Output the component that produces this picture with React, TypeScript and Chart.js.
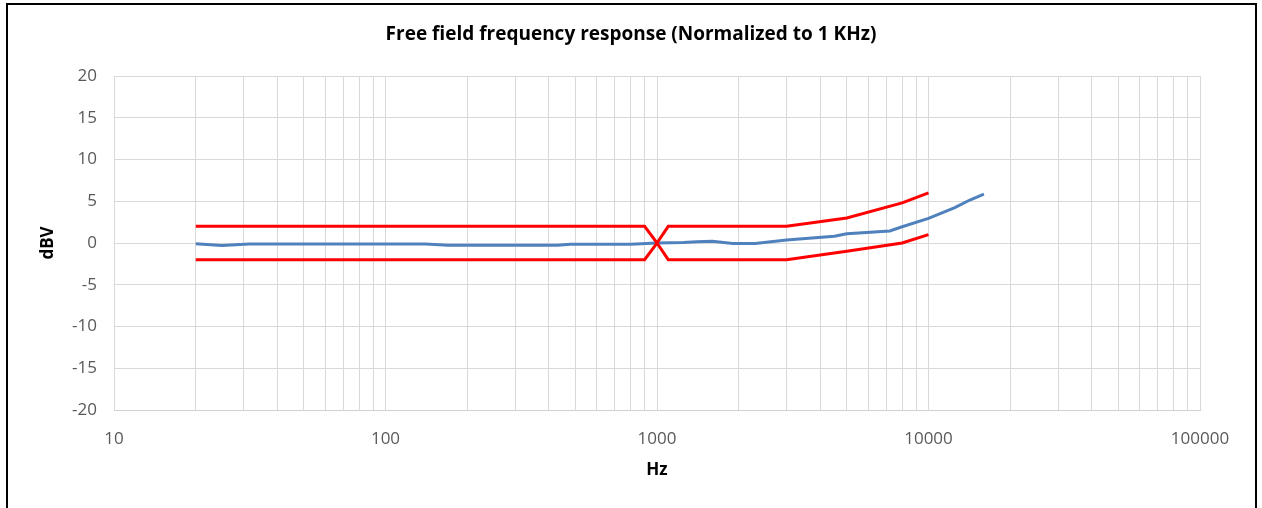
import React, { useEffect, useRef } from "react";
import { Chart, registerables } from "chart.js";

Chart.register(...registerables);

const CHART_TITLE = "Free field frequency response (Normalized to 1 KHz)";
const X_TITLE = "Hz";
const Y_TITLE = "dBV";

// Measured response (blue)
const responseFreq = [20, 25, 31.5, 40, 50, 63, 80, 100, 125, 140, 170, 200, 250, 315, 400, 430, 480, 630, 800, 1000, 1250, 1400, 1600, 1900, 2300, 3000, 4500, 5000, 7200, 8000, 10000, 12500, 14200, 16000];
const responseDb = [-0.1, -0.3, -0.12, -0.12, -0.12, -0.12, -0.12, -0.12, -0.12, -0.12, -0.27, -0.27, -0.27, -0.27, -0.27, -0.27, -0.15, -0.15, -0.15, 0, 0.05, 0.15, 0.2, -0.05, -0.05, 0.36, 0.8, 1.1, 1.45, 1.95, 2.95, 4.25, 5.15, 5.85];

// Tolerance limits (red)
const limitFreq = [20, 900, 1000, 1100, 3000, 5000, 8000, 10000];
const upperLimit = [2, 2, 0, 2, 2, 3, 4.8, 6];
const lowerLimit = [-2, -2, 0, -2, -2, -1, 0, 1];

// Axes
const xDecades = [10, 100, 1000, 10000, 100000];
const yMin = -20;
const yMax = 20;
const yStep = 5;

const FONT = "'Open Sans', 'Noto Sans', 'Liberation Sans', sans-serif";

export default function App() {
  const ref = useRef<HTMLCanvasElement | null>(null);

  useEffect(() => {
    const canvas = ref.current;
    if (!canvas) return;

    const gridValues: number[] = [];
    for (let d = 0; d < xDecades.length - 1; d++) {
      for (let m = 1; m < 10; m++) gridValues.push(xDecades[d] * m);
    }
    gridValues.push(xDecades[xDecades.length - 1]);

    const titlesPlugin = {
      id: "titles",
      afterDraw(chart: any) {
        const { ctx, chartArea } = chart;
        ctx.save();
        ctx.fillStyle = "#000";
        ctx.textAlign = "center";
        ctx.textBaseline = "middle";
        ctx.font = `bold 19px ${FONT}`;
        ctx.fillText(CHART_TITLE, 631, 35);
        ctx.font = `bold 17px ${FONT}`;
        ctx.fillText(X_TITLE, (chartArea.left + chartArea.right) / 2, 470);
        ctx.translate(48, (chartArea.top + chartArea.bottom) / 2);
        ctx.rotate(-Math.PI / 2);
        ctx.fillText(Y_TITLE, 0, 0);
        ctx.restore();
      },
    };

    const chart = new Chart(canvas, {
      type: "line",
      data: {
        datasets: [
          {
            label: "Upper limit",
            data: limitFreq.map((f, i) => ({ x: f, y: upperLimit[i] })),
            borderColor: "#ff0000",
            borderWidth: 3,
            pointRadius: 0,
            tension: 0,
            fill: false,
          },
          {
            label: "Lower limit",
            data: limitFreq.map((f, i) => ({ x: f, y: lowerLimit[i] })),
            borderColor: "#ff0000",
            borderWidth: 3,
            pointRadius: 0,
            tension: 0,
            fill: false,
          },
          {
            label: "Response",
            data: responseFreq.map((f, i) => ({ x: f, y: responseDb[i] })),
            borderColor: "#4f81bd",
            borderWidth: 3,
            pointRadius: 0,
            tension: 0,
            fill: false,
          },
        ],
      },
      options: {
        responsive: false,
        devicePixelRatio: 1,
        animation: false,
        layout: { padding: { top: 76, right: 62, left: 0, bottom: 0 } },
        plugins: {
          legend: { display: false },
          title: { display: false },
          tooltip: { enabled: false },
        },
        scales: {
          x: {
            type: "logarithmic",
            min: 10,
            max: 100000,
            afterBuildTicks: (scale: any) => {
              scale.ticks = gridValues.map((v) => ({ value: v }));
            },
            afterFit: (scale: any) => {
              scale.height = 98;
            },
            grid: { color: "#d9d9d9", lineWidth: 1, drawTicks: false },
            border: { color: "#d0d0d0", width: 1 },
            ticks: {
              autoSkip: false,
              maxRotation: 0,
              padding: 19,
              color: "#595959",
              font: { family: FONT, size: 17 },
              callback: (v: any) => (xDecades.includes(Number(v)) ? String(v) : ""),
            },
          },
          y: {
            type: "linear",
            min: yMin,
            max: yMax,
            afterFit: (scale: any) => {
              scale.width = 114;
            },
            grid: { color: "#d9d9d9", lineWidth: 1, drawTicks: false },
            border: { color: "#d9d9d9", width: 1 },
            ticks: {
              stepSize: yStep,
              padding: 17,
              color: "#595959",
              font: { family: FONT, size: 17 },
            },
          },
        },
      },
      plugins: [titlesPlugin],
    });

    return () => chart.destroy();
  }, []);

  return (
    <div style={{ position: "absolute", left: 0, top: 0, width: 1262, height: 508, overflow: "hidden", background: "#fff" }}>
      <canvas ref={ref} width={1262} height={508} style={{ position: "absolute", left: 0, top: 0 }} />
      <div
        style={{
          position: "absolute",
          left: 6,
          top: 3,
          width: 1251,
          height: 530,
          border: "2px solid #000",
          boxSizing: "border-box",
          pointerEvents: "none",
        }}
      />
    </div>
  );
}
